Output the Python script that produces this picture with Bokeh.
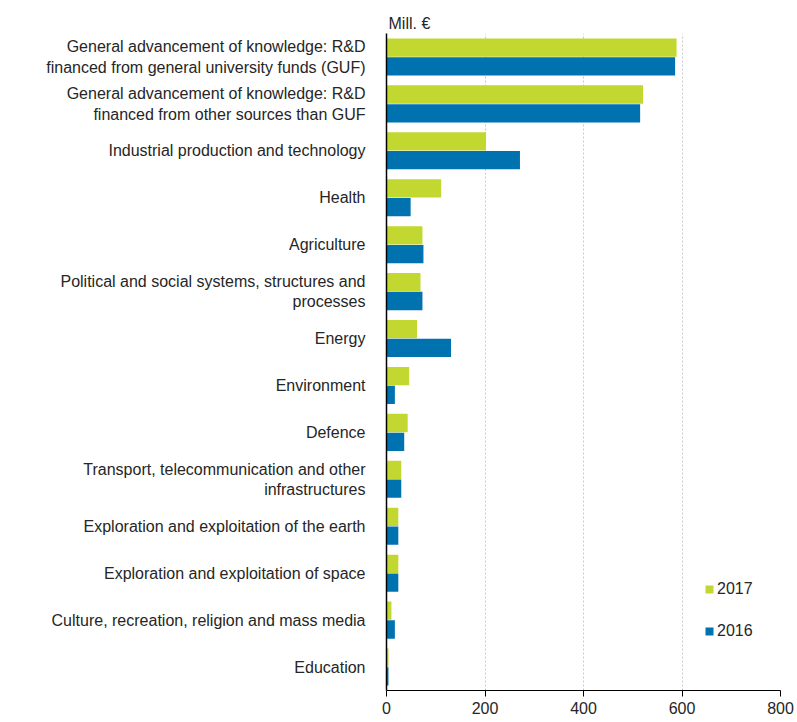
from bokeh.plotting import figure
from bokeh.models import FactorRange, Legend, LegendItem, ColumnDataSource
from bokeh.transform import dodge
from bokeh.embed import file_html
from bokeh.resources import INLINE

categories = [
    "General advancement of knowledge: R&D\nfinanced from general university funds (GUF)",
    "General advancement of knowledge: R&D\nfinanced from other sources than GUF",
    "Industrial production and technology",
    "Health",
    "Agriculture",
    "Political and social systems, structures and\nprocesses",
    "Energy",
    "Environment",
    "Defence",
    "Transport, telecommunication and other\ninfrastructures",
    "Exploration and exploitation of the earth",
    "Exploration and exploitation of space",
    "Culture, recreation, religion and mass media",
    "Education",
]
values_2017 = [589, 521, 202, 111, 73, 69, 62, 46, 43, 30, 24, 24, 10, 4]
values_2016 = [586, 515, 271, 49, 75, 73, 131, 17, 36, 30, 24, 24, 17, 4]
x_ticks = [0, 200, 400, 600, 800]

GREEN = "#c2d730"
BLUE = "#0072b0"
TXT = "#262626"
FONT = "Liberation Sans"

src = ColumnDataSource(dict(cat=categories, v17=values_2017, v16=values_2016))

p = figure(width=797, height=722, output_backend="svg", toolbar_location=None,
           y_range=FactorRange(factors=list(reversed(categories)), range_padding=0),
           x_range=(0, 800))
p.min_border_left = 386
p.min_border_right = 17
p.min_border_top = 33
p.min_border_bottom = 32
p.outline_line_color = None

p.title.text = "Mill. €"
p.title.align = "left"
p.title.text_font = FONT
p.title.text_font_size = "16px"
p.title.text_font_style = "normal"
p.title.text_color = TXT
p.title.offset = 2
p.title.standoff = 4

r17 = p.hbar(y=dodge("cat", 0.2, range=p.y_range), right="v17", left=0, height=0.39,
             source=src, color=GREEN, line_color=None)
r16 = p.hbar(y=dodge("cat", -0.2, range=p.y_range), right="v16", left=0, height=0.39,
             source=src, color=BLUE, line_color=None)

p.xaxis.ticker = x_ticks
p.xaxis.minor_tick_line_color = None
p.xaxis.major_tick_in = 0
p.xaxis.major_tick_out = 6
p.xaxis.axis_line_color = "black"
p.xaxis.major_tick_line_color = "black"
p.xaxis.major_label_text_font = FONT
p.xaxis.major_label_text_font_size = "16px"
p.xaxis.major_label_text_color = TXT

p.yaxis.major_tick_line_color = None
p.yaxis.minor_tick_line_color = None
p.yaxis.axis_line_color = "black"
p.yaxis.axis_line_width = 1.5
p.yaxis.major_label_text_font = FONT
p.yaxis.major_label_text_font_size = "16px"
p.yaxis.major_label_text_color = TXT
p.yaxis.major_label_standoff = 15

p.ygrid.grid_line_color = None
p.xgrid.grid_line_color = "#c8c8c8"
p.xgrid.grid_line_dash = "2 2"

legend = Legend(items=[LegendItem(label="2017", renderers=[r17]),
                       LegendItem(label="2016", renderers=[r16])],
                location=(318, 50), border_line_color=None, background_fill_alpha=0,
                glyph_width=10, glyph_height=10, spacing=24,
                label_text_font=FONT, label_text_font_size="16px",
                label_text_color=TXT, label_standoff=3)
p.add_layout(legend)

open("out.html", "w").write(file_html(p, INLINE))
